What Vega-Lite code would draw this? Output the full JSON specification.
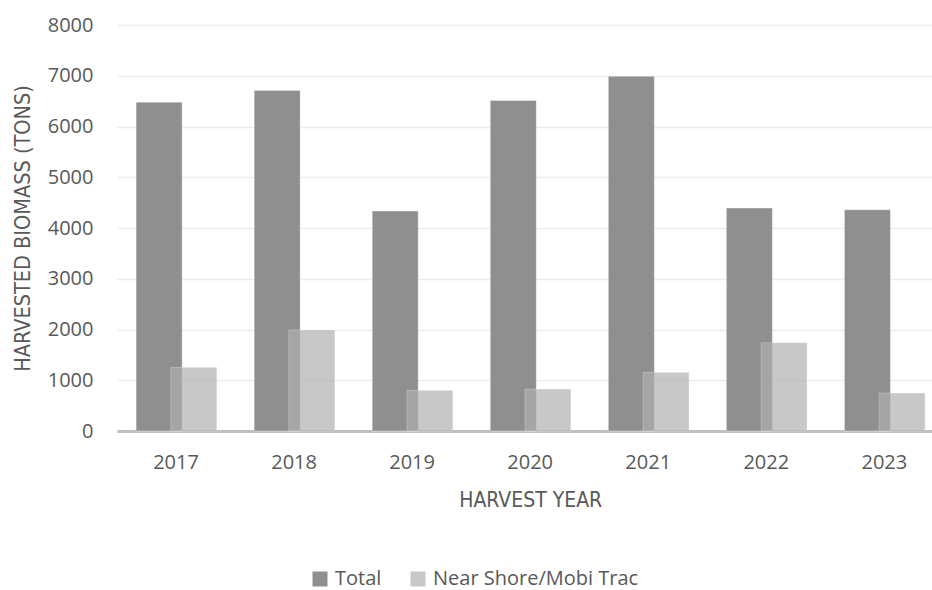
{
  "$schema": "https://vega.github.io/schema/vega-lite/v6.json",
  "autosize": "none",
  "width": 815,
  "height": 406,
  "padding": {"left": 117, "top": 25, "right": 0, "bottom": 159},
  "background": "white",
  "config": {
    "view": {"stroke": null},
    "font": "Open Sans"
  },
  "data": {
    "values": [
      {"year": "2017", "series": "Total", "value": 6480},
      {"year": "2018", "series": "Total", "value": 6710},
      {"year": "2019", "series": "Total", "value": 4333},
      {"year": "2020", "series": "Total", "value": 6512},
      {"year": "2021", "series": "Total", "value": 6990},
      {"year": "2022", "series": "Total", "value": 4392},
      {"year": "2023", "series": "Total", "value": 4360},
      {"year": "2017", "series": "Near Shore/Mobi Trac", "value": 1254},
      {"year": "2018", "series": "Near Shore/Mobi Trac", "value": 1990},
      {"year": "2019", "series": "Near Shore/Mobi Trac", "value": 801},
      {"year": "2020", "series": "Near Shore/Mobi Trac", "value": 827},
      {"year": "2021", "series": "Near Shore/Mobi Trac", "value": 1156},
      {"year": "2022", "series": "Near Shore/Mobi Trac", "value": 1741},
      {"year": "2023", "series": "Near Shore/Mobi Trac", "value": 748}
    ]
  },
  "mark": {"type": "bar", "width": {"band": 1.326}, "stroke": "#ffffff", "strokeOpacity": 0.35, "strokeWidth": 1},
  "encoding": {
    "x": {
      "field": "year",
      "type": "nominal",
      "scale": {"range": [0, 826.35], "paddingInner": 0, "paddingOuter": 0},
      "axis": {
        "title": "HARVEST YEAR",
        "titleFont": "DejaVu Sans Condensed, Open Sans",
        "titleFontSize": 21,
        "titleFontWeight": "normal",
        "titleColor": "#595959",
        "titlePadding": 17,
        "labelFont": "Open Sans",
        "labelFontSize": 20,
        "labelColor": "#595959",
        "labelAngle": 0,
        "labelPadding": 21,
        "ticks": false,
        "domain": true,
        "domainColor": "#bfbfbf",
        "domainWidth": 3,
        "grid": false
      }
    },
    "xOffset": {
      "field": "series",
      "type": "nominal",
      "sort": ["Total", "Near Shore/Mobi Trac"],
      "scale": {"range": [38.35, 107.75], "paddingInner": 0, "paddingOuter": 0}
    },
    "y": {
      "field": "value",
      "type": "quantitative",
      "scale": {"domain": [0, 8000], "nice": false},
      "axis": {
        "title": "HARVESTED BIOMASS (TONS)",
        "titleFont": "DejaVu Sans Condensed, Open Sans",
        "titleFontSize": 21.5,
        "titleFontWeight": "normal",
        "titleColor": "#595959",
        "titleX": -94,
        "titleY": 203,
        "titleAlign": "center",
        "titleBaseline": "middle",
        "titleAngle": 270,
        "values": [0, 1000, 2000, 3000, 4000, 5000, 6000, 7000, 8000],
        "format": "d",
        "labelFont": "Open Sans",
        "labelFontSize": 20,
        "labelColor": "#595959",
        "labelPadding": 24,
        "ticks": false,
        "domain": false,
        "grid": true,
        "gridColor": "#ececec",
        "gridWidth": 1.5
      }
    },
    "color": {
      "field": "series",
      "type": "nominal",
      "sort": ["Total", "Near Shore/Mobi Trac"],
      "scale": {"domain": ["Total", "Near Shore/Mobi Trac"], "range": ["#8f8f8f", "#b0b0b0"]},
      "legend": {
        "title": null,
        "orient": "none",
        "direction": "horizontal",
        "legendX": 193,
        "legendY": 544,
        "symbolType": "square",
        "symbolSize": 225,
        "symbolStrokeWidth": 0,
        "labelFont": "Open Sans",
        "labelFontSize": 20,
        "labelColor": "#595959",
        "labelOffset": 5,
        "labelLimit": 400,
        "columnPadding": 26
      }
    },
    "opacity": {
      "field": "series",
      "type": "nominal",
      "sort": ["Total", "Near Shore/Mobi Trac"],
      "scale": {"domain": ["Total", "Near Shore/Mobi Trac"], "range": [1, 0.69]},
      "legend": {
        "title": null,
        "orient": "none",
        "direction": "horizontal",
        "legendX": 193,
        "legendY": 544,
        "symbolType": "square",
        "symbolSize": 225,
        "symbolStrokeWidth": 0,
        "labelFont": "Open Sans",
        "labelFontSize": 20,
        "labelColor": "#595959",
        "labelOffset": 5,
        "labelLimit": 400,
        "columnPadding": 26
      }
    }
  }
}
